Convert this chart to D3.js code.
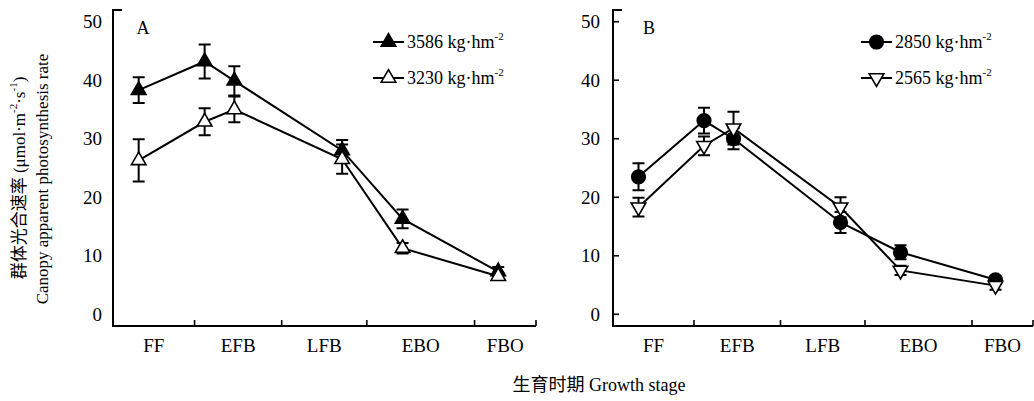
<!DOCTYPE html>
<html><head><meta charset="utf-8">
<script src="https://cdn.jsdelivr.net/npm/d3@7"></script>
<style>
html,body{margin:0;padding:0;background:#fff;}
svg{display:block;font-family:"Liberation Serif","Times New Roman","Noto Sans CJK SC",serif;}
</style></head>
<body>
<svg id="chart" width="1034" height="401"></svg>
<script>
// ---- data ----
const stageNames = ["FF", "EFB", "LFB", "EBO", "FBO"];
const stageBounds = [0, 16.2, 33.5, 50.4, 71.8, 84];   // stage boundaries on the time axis
const sampleX = [5.1, 18.2, 24.1, 45.5, 57.5, 76.5];    // sampling times
const yTicks = [0, 10, 20, 30, 40, 50];

const a3586 = [38.3, 43.2, 39.9, 28.0, 16.3, 7.3];
const a3586Err = [2.2, 2.9, 2.5, 1.8, 1.6, 0.8];
const a3230 = [26.3, 32.9, 35.0, 26.5, 11.3, 6.5];
const a3230Err = [3.6, 2.3, 2.2, 2.5, 0.9, 0.6];

const b2850 = [23.5, 33.1, 30.0, 15.7, 10.6, 5.9];
const b2850Err = [2.3, 2.2, 1.8, 1.8, 1.2, 0.6];
const b2565 = [18.3, 28.8, 31.8, 18.3, 7.5, 4.9];
const b2565Err = [1.6, 1.6, 2.8, 1.7, 0.8, 0.7];

const svg = d3.select("#chart");

const y = d3.scaleLinear().domain([-2, 52]).range([326, 10]);

const panels = [
  { label: "A", x0: 113, x1: 536, yTicksShown: false, labelRight: 102,
    series: [
      { name: "3586", vals: a3586, err: a3586Err, shape: "up", fill: "#000" },
      { name: "3230", vals: a3230, err: a3230Err, shape: "up", fill: "#fff" }
    ], legendX: 373, panelLabelX: 143 },
  { label: "B", x0: 613, x1: 1033, yTicksShown: true, labelRight: 600,
    series: [
      { name: "2850", vals: b2850, err: b2850Err, shape: "circle", fill: "#000" },
      { name: "2565", vals: b2565, err: b2565Err, shape: "down", fill: "#fff" }
    ], legendX: 861, panelLabelX: 649 }
];

const triPath = d3.symbol().type(d3.symbolTriangle).size(92)();
const circPath = d3.symbol().type(d3.symbolCircle).size(Math.PI * 6.8 * 6.8)();

function marker(g, shape, fill, cx, cy) {
  const p = g.append("path")
    .attr("d", shape === "circle" ? circPath : triPath)
    .attr("fill", fill).attr("stroke", "#000").attr("stroke-width", 1.6);
  if (shape === "down") p.attr("transform", `translate(${cx},${cy}) rotate(180)`);
  else p.attr("transform", `translate(${cx},${cy})`);
}

panels.forEach(P => {
  const x = d3.scaleLinear().domain([0, 84]).range([P.x0, P.x1]);
  const g = svg.append("g");

  // y axis line with top cap
  g.append("path")
    .attr("d", `M${P.x0 + 9},${y(52)}H${P.x0}V${y(-2)}H${P.x1}`)
    .attr("fill", "none").attr("stroke", "#000").attr("stroke-width", 2);

  // y ticks and labels
  yTicks.forEach(t => {
    if (P.yTicksShown) {
      g.append("line").attr("x1", P.x0).attr("x2", P.x0 + 6)
        .attr("y1", y(t)).attr("y2", y(t)).attr("stroke", "#000").attr("stroke-width", 1.6);
    }
    g.append("text").attr("x", P.labelRight).attr("y", y(t))
      .attr("text-anchor", "end").attr("dominant-baseline", "central")
      .attr("font-size", 19).text(t);
  });

  // x ticks (stage boundaries) and stage labels
  stageBounds.slice(1).forEach(b => {
    g.append("line").attr("x1", x(b)).attr("x2", x(b))
      .attr("y1", y(-2)).attr("y2", y(-2) - 6).attr("stroke", "#000").attr("stroke-width", 1.6);
  });
  stageNames.forEach((n, i) => {
    g.append("text").attr("x", x((stageBounds[i] + stageBounds[i + 1]) / 2)).attr("y", 352)
      .attr("text-anchor", "middle").attr("font-size", 19).text(n);
  });

  // panel label
  g.append("text").attr("x", P.panelLabelX).attr("y", 28).attr("text-anchor", "middle")
    .attr("dominant-baseline", "central").attr("font-size", 18).text(P.label);

  const line = d3.line().x((d, i) => x(sampleX[i])).y(d => y(d));

  // lines
  P.series.forEach(s => {
    g.append("path").attr("d", line(s.vals)).attr("fill", "none")
      .attr("stroke", "#000").attr("stroke-width", 2);
  });
  // error bars
  P.series.forEach(s => {
    s.vals.forEach((v, i) => {
      const cx = x(sampleX[i]);
      const e = s.err[i];
      g.append("path")
        .attr("d", `M${cx},${y(v + e)}V${y(v - e)}M${cx - 6},${y(v + e)}H${cx + 6}M${cx - 6},${y(v - e)}H${cx + 6}`)
        .attr("stroke", "#000").attr("stroke-width", 2).attr("fill", "none");
    });
  });
  // markers
  P.series.forEach(s => {
    s.vals.forEach((v, i) => marker(g, s.shape, s.fill, x(sampleX[i]), y(v)));
  });

  // legend
  P.series.forEach((s, k) => {
    const ly = 42 + k * 36;
    g.append("line").attr("x1", P.legendX).attr("x2", P.legendX + 31)
      .attr("y1", ly).attr("y2", ly).attr("stroke", "#000").attr("stroke-width", 2);
    marker(g, s.shape, s.fill, P.legendX + 15.5, ly);
    const t = g.append("text").attr("x", P.legendX + 34).attr("y", ly)
      .attr("dominant-baseline", "central").attr("font-size", 18);
    t.append("tspan").text(s.name + " kg·hm");
    t.append("tspan").attr("font-size", 11).attr("dy", -6).text("-2");
  });
});

// y-axis title (two lines)
const yt1 = svg.append("text").attr("transform", "translate(19,178) rotate(-90)")
  .attr("text-anchor", "middle").attr("dominant-baseline", "central").attr("font-size", 17);
yt1.append("tspan").text("群体光合速率 (μmol·m");
yt1.append("tspan").attr("font-size", 11).attr("dy", -6).text("-2");
yt1.append("tspan").attr("dy", 6).text("·s");
yt1.append("tspan").attr("font-size", 11).attr("dy", -6).text("-1");
yt1.append("tspan").attr("dy", 6).text(")");

svg.append("text").attr("transform", "translate(42,179) rotate(-90)")
  .attr("text-anchor", "middle").attr("dominant-baseline", "central").attr("font-size", 17)
  .text("Canopy apparent photosynthesis rate");

// x-axis title
svg.append("text").attr("x", 599).attr("y", 391).attr("text-anchor", "middle")
  .attr("font-size", 18).text("生育时期 Growth stage");
</script>
</body></html>
